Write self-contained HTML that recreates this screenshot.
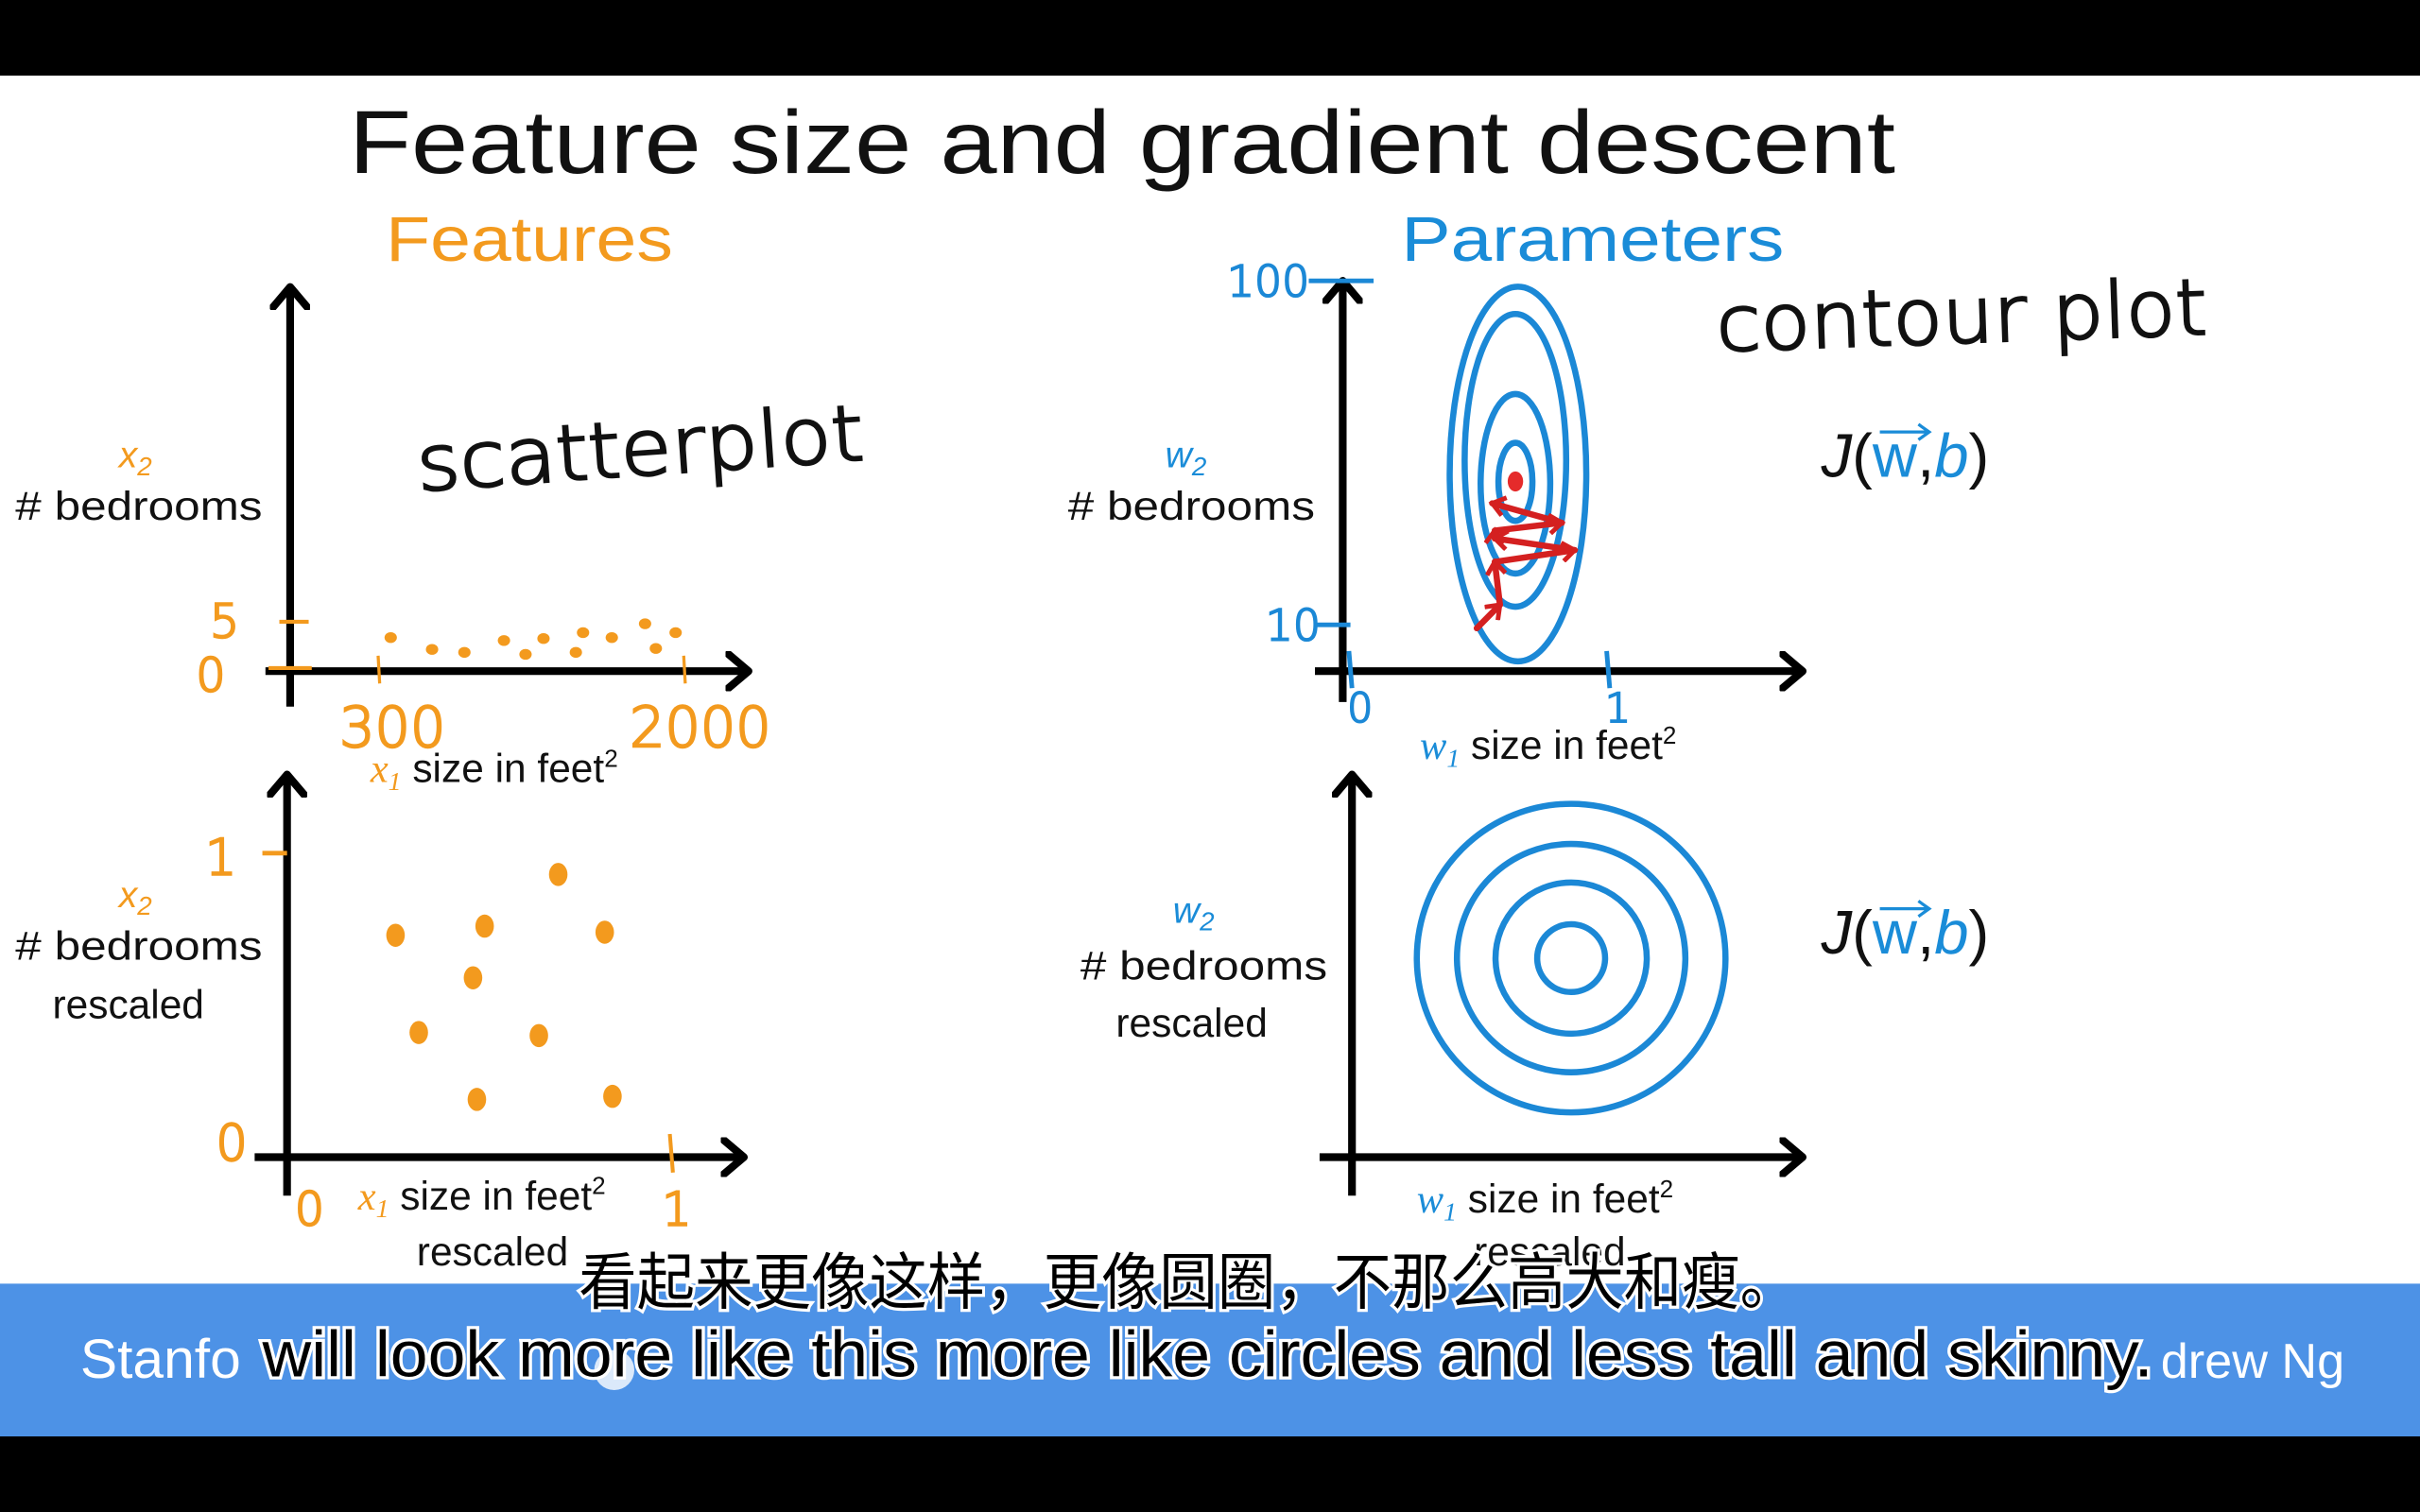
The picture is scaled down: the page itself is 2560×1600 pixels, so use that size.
<!DOCTYPE html>
<html><head><meta charset="utf-8">
<style>
html,body{margin:0;padding:0;background:#fff;}
svg{display:block;}
text{font-family:"Liberation Sans","Noto Sans CJK SC",sans-serif;}
.hand{font-family:"DejaVu Sans","Liberation Sans",sans-serif;font-weight:300;}
</style></head>
<body>
<svg id="root" width="2560" height="1600" viewBox="0 0 1568 980" xmlns="http://www.w3.org/2000/svg">
<defs>
<marker id="arr" markerWidth="24" markerHeight="26" refX="15" refY="13" orient="auto" markerUnits="userSpaceOnUse" viewBox="0 0 24 26"><path d="M2,2 L15,13 L2,24" fill="none" stroke="#000" stroke-width="5" stroke-linecap="round" stroke-linejoin="round"/></marker>
<marker id="rarr" markerWidth="14" markerHeight="14" refX="9" refY="7" orient="auto" markerUnits="userSpaceOnUse" viewBox="0 0 14 14"><path d="M1,1 L9,7 L1,13" fill="none" stroke="#d42020" stroke-width="3"/></marker>
</defs>
<rect x="0" y="0" width="1568" height="49" fill="#000"/>
<text x="226" y="112" font-size="58" textLength="1002" lengthAdjust="spacingAndGlyphs" fill="#111">Feature size and gradient descent</text>
<text x="250" y="169" font-size="41" textLength="186" lengthAdjust="spacingAndGlyphs" fill="#f39a1e">Features</text>
<text x="908" y="169" font-size="41" textLength="248" lengthAdjust="spacingAndGlyphs" fill="#1a8cd8">Parameters</text>

<text class="hand" x="270" y="308" font-size="50" textLength="290" lengthAdjust="spacingAndGlyphs" fill="#111" stroke="#111" stroke-width="1.6" transform="rotate(-4 415 295)">scatterplot</text>
<text class="hand" x="1112" y="222" font-size="50" textLength="318" lengthAdjust="spacingAndGlyphs" fill="#111" stroke="#111" stroke-width="1.6" transform="rotate(-2 1270 205)">contour plot</text>

<g id="tl"></g>
<g id="bl"></g>
<g id="tr"></g>
<g id="br"></g>

<text x="77" y="303" font-size="24" font-style="italic" fill="#f39a1e" font-family="Liberation Serif">x<tspan font-size="17" dy="5">2</tspan></text>
<text x="10" y="337" font-size="26" textLength="160" lengthAdjust="spacingAndGlyphs" fill="#111"># bedrooms</text>
<text x="240" y="507" font-size="26" fill="#111"><tspan font-family="Liberation Serif" font-style="italic" fill="#f39a1e">x<tspan font-size="17" dy="5">1</tspan></tspan><tspan dy="-5"> size in feet</tspan><tspan font-size="16" dy="-10">2</tspan></text>

<text x="77" y="588" font-size="24" font-style="italic" fill="#f39a1e" font-family="Liberation Serif">x<tspan font-size="17" dy="5">2</tspan></text>
<text x="10" y="622" font-size="26" textLength="160" lengthAdjust="spacingAndGlyphs" fill="#111"># bedrooms</text>
<text x="34" y="660" font-size="26" fill="#111">rescaled</text>
<text x="232" y="784" font-size="26" fill="#111"><tspan font-family="Liberation Serif" font-style="italic" fill="#f39a1e">x<tspan font-size="17" dy="5">1</tspan></tspan><tspan dy="-5"> size in feet</tspan><tspan font-size="16" dy="-10">2</tspan></text>
<text x="270" y="820" font-size="26" fill="#111">rescaled</text>

<text x="755" y="303" font-size="24" font-style="italic" fill="#1a8cd8" font-family="Liberation Serif">w<tspan font-size="17" dy="5">2</tspan></text>
<text x="692" y="337" font-size="26" textLength="160" lengthAdjust="spacingAndGlyphs" fill="#111"># bedrooms</text>
<text x="920" y="492" font-size="26" fill="#111"><tspan font-family="Liberation Serif" font-style="italic" fill="#1a8cd8">w<tspan font-size="17" dy="5">1</tspan></tspan><tspan dy="-5"> size in feet</tspan><tspan font-size="16" dy="-10">2</tspan></text>

<text x="760" y="598" font-size="24" font-style="italic" fill="#1a8cd8" font-family="Liberation Serif">w<tspan font-size="17" dy="5">2</tspan></text>
<text x="700" y="635" font-size="26" textLength="160" lengthAdjust="spacingAndGlyphs" fill="#111"># bedrooms</text>
<text x="723" y="672" font-size="26" fill="#111">rescaled</text>
<text x="918" y="786" font-size="26" fill="#111"><tspan font-family="Liberation Serif" font-style="italic" fill="#1a8cd8">w<tspan font-size="17" dy="5">1</tspan></tspan><tspan dy="-5"> size in feet</tspan><tspan font-size="16" dy="-10">2</tspan></text>
<text x="955" y="820" font-size="26" fill="#111">rescaled</text>

<text x="1180" y="309" font-size="40" font-family="Liberation Serif" fill="#111"><tspan font-style="italic">J</tspan>(<tspan fill="#1a8cd8">w</tspan>,<tspan fill="#1a8cd8" font-style="italic">b</tspan>)</text>
<path d="M1218,280 L1250,280 M1243,275 L1250,280 L1243,285" stroke="#1a8cd8" stroke-width="2" fill="none"/>
<text x="1180" y="618" font-size="40" font-family="Liberation Serif" fill="#111"><tspan font-style="italic">J</tspan>(<tspan fill="#1a8cd8">w</tspan>,<tspan fill="#1a8cd8" font-style="italic">b</tspan>)</text>
<path d="M1218,589 L1250,589 M1243,584 L1250,589 L1243,594" stroke="#1a8cd8" stroke-width="2" fill="none"/>

<rect x="0" y="832" width="1568" height="99" fill="#4d92e6"/>
<rect x="0" y="931" width="1568" height="49" fill="#000"/>
<text x="52" y="893" font-size="36" fill="#fff" font-family="Liberation Serif">Stanfo</text>
<circle cx="398" cy="888" r="13" fill="#fff" opacity="0.8"/>
<text x="1400" y="893" font-size="32" fill="#fff">drew Ng</text>
<text x="375" y="845" font-size="40" textLength="790" lengthAdjust="spacingAndGlyphs" fill="#000" stroke="#fff" stroke-width="4" paint-order="stroke" font-family="Liberation Sans, Noto Sans CJK SC, sans-serif">看起来更像这样，更像圆圈，不那么高大和瘦。</text>
<text x="170" y="892" font-size="42" textLength="1225" lengthAdjust="spacingAndGlyphs" fill="#000" stroke="#fff" stroke-width="4" paint-order="stroke">will look more like this more like circles and less tall and skinny.</text>
</svg>
<script>
// ---- data ----
const sizeFeet = [370, 600, 780, 1000, 1120, 1220, 1440, 1400, 1600, 1785, 1845, 1955];
const bedrooms = [3.4, 2.2, 1.9, 3.1, 1.7, 3.3, 3.9, 1.9, 3.4, 4.8, 2.3, 3.9];
const xTicksTop = [300, 2000];
const yTicksTop = [0, 5];
const sizeRescaled = [0.28, 0.51, 0.70, 0.82, 0.48, 0.34, 0.65, 0.49, 0.84];
const bedroomsRescaled = [0.73, 0.76, 0.93, 0.74, 0.59, 0.41, 0.40, 0.19, 0.20];
const ticksRescaled = [0, 1];
const ellipseW1 = [0.68, 0.67, 0.67, 0.67];
const ellipseW2 = [50.5, 54, 48, 48.5];
const ellipseRw1 = [0.265, 0.197, 0.135, 0.066];
const ellipseRw2 = [48, 37.5, 23, 10];
const w2Ticks = [10, 100];
const w1Ticks = [0, 1];
const pathW1 = [0.52, 0.61, 0.59, 0.90, 0.59, 0.59, 0.85, 0.58];
const pathW2 = [11, 17, 28, 31, 34, 36, 38, 43];
const minW1 = [0.67];
const minW2 = [48.6];
const circleRadii = [1.0, 0.74, 0.49, 0.22];
const circleCenter = [0.5, 0.5];

const NS = 'http://www.w3.org/2000/svg';
function mk(parent, tag, attrs){const e=document.createElementNS(NS,tag);for(const k in attrs)e.setAttribute(k,attrs[k]);parent.appendChild(e);return e;}
const ORANGE='#f39a1e', BLUE='#1b88d6';
function axes(g, ox, oy, yTop, xRight, xLeft, yBottom){
  const ya=mk(g,'line',{x1:ox,y1:yBottom,x2:ox,y2:yTop,stroke:'#000','stroke-width':5,'marker-end':'url(#arr)'});
  
  
  const xa=mk(g,'line',{x1:xLeft,y1:oy,x2:xRight,y2:oy,stroke:'#000','stroke-width':5,'marker-end':'url(#arr)'});
  
  
}
(function(){
  const g=document.getElementById('tl');
  const xs=v=>245+(v-300)*198/1700, ys=v=>435-v*6.4;
  axes(g,188,435,186,485,172,458);
  xTicksTop.forEach((t,i)=>{
    const l=mk(g,'line',{x1:xs(t),y1:ys(0)-10,x2:xs(t)+1,y2:ys(0)+8,stroke:ORANGE,'stroke-width':2});
    
    
    const tx=mk(g,'text',{x:xs(t)-(i?35:25),y:484,'font-size':36,fill:ORANGE,stroke:ORANGE,'stroke-width':1.5,'class':'hand'});tx.textContent=t;
    
    
  });
  yTicksTop.forEach(t=>{
    const l=mk(g,'line',{x1:t?181:174,y1:ys(t)+(t?0:-2),x2:t?200:202,y2:ys(t)+(t?0:-2),stroke:ORANGE,'stroke-width':2.5});
    
    
    const tx=mk(g,'text',{x:t?136:127,y:ys(t)+(t?10:13),'font-size':30,fill:ORANGE,stroke:ORANGE,'stroke-width':1.5,'class':'hand'});tx.textContent=t;
    
    
  });
  sizeFeet.forEach((v,i)=>{
    const c=mk(g,'ellipse',{cx:xs(v),cy:ys(bedrooms[i]),rx:4,ry:3.5,fill:ORANGE});
    
    
  });
})();
(function(){
  const g=document.getElementById('bl');
  const xs=v=>186+v*251, ys=v=>750-v*197;
  axes(g,186,750,502,482,165,775);
  const l1=mk(g,'line',{x1:170,y1:ys(1),x2:186,y2:ys(1),stroke:ORANGE,'stroke-width':3});
  
  
  const l2=mk(g,'line',{x1:xs(1)-3,y1:735,x2:xs(1)-1,y2:760,stroke:ORANGE,'stroke-width':2.5});
  
  
  ticksRescaled.forEach(t=>{
    const ty=mk(g,'text',{x:t?133:140,y:ys(t)+(t?14:2),'font-size':32,fill:ORANGE,stroke:ORANGE,'stroke-width':1.5,'class':'hand'});ty.textContent=t;
    
    
    const tx=mk(g,'text',{x:xs(t)+(t?-8:5),y:794,'font-size':30,fill:ORANGE,stroke:ORANGE,'stroke-width':1.5,'class':'hand'});tx.textContent=t;
    
    
  });
  sizeRescaled.forEach((v,i)=>{
    const c=mk(g,'ellipse',{cx:xs(v),cy:ys(bedroomsRescaled[i]),rx:6,ry:7.5,fill:ORANGE});
    
    
  });
})();
(function(){
  const g=document.getElementById('tr');
  const xs=v=>870+v*167, ys=v=>435-v*2.53;
  axes(g,870,435,182,1168,852,455);
  w2Ticks.forEach(t=>{
    const y=t===10?405:ys(t);
    const l=mk(g,'line',{x1:t===100?848:852,y1:y,x2:t===100?890:875,y2:y,stroke:BLUE,'stroke-width':3});
    
    
    const tx=mk(g,'text',{x:t===100?795:820,y:y+10,'font-size':28,fill:BLUE,stroke:BLUE,'stroke-width':1.3,'class':'hand'});tx.textContent=t;
    
    
  });
  w1Ticks.forEach(t=>{
    const l=mk(g,'line',{x1:xs(t)+4,y1:422,x2:xs(t)+6,y2:446,stroke:BLUE,'stroke-width':3});
    
    
    const tx=mk(g,'text',{x:xs(t)+3,y:468,'font-size':26,fill:BLUE,stroke:BLUE,'stroke-width':1.3,'class':'hand'});tx.textContent=t;
    
    
  });
  ellipseW1.forEach((v,i)=>{
    const e=mk(g,'ellipse',{cx:xs(v),cy:ys(ellipseW2[i]),rx:ellipseRw1[i]*167,ry:ellipseRw2[i]*2.53,fill:'none',stroke:BLUE,'stroke-width':4});
    
    
  });
  const m=mk(g,'ellipse',{cx:xs(minW1[0]),cy:ys(minW2[0]),rx:5,ry:6.5,fill:'#e52b2b'});
  
  
  pathW1.slice(1).forEach((v,i)=>{
    const s=mk(g,'line',{x1:xs(pathW1[i]),y1:ys(pathW2[i]),x2:xs(v),y2:ys(pathW2[i+1]),stroke:'#d42020','stroke-width':4,'stroke-linecap':'round','marker-end':'url(#rarr)'});
    
    
  });
})();
(function(){
  const g=document.getElementById('br');
  const xs=v=>918+v*200, ys=v=>721-v*200;
  axes(g,876,750,502,1168,855,775);
  circleRadii.forEach(r=>{
    const c=mk(g,'circle',{cx:xs(circleCenter[0]),cy:ys(circleCenter[1]),r:r*100,fill:'none',stroke:BLUE,'stroke-width':4});
    
    
  });
})();
</script>
</body></html>
